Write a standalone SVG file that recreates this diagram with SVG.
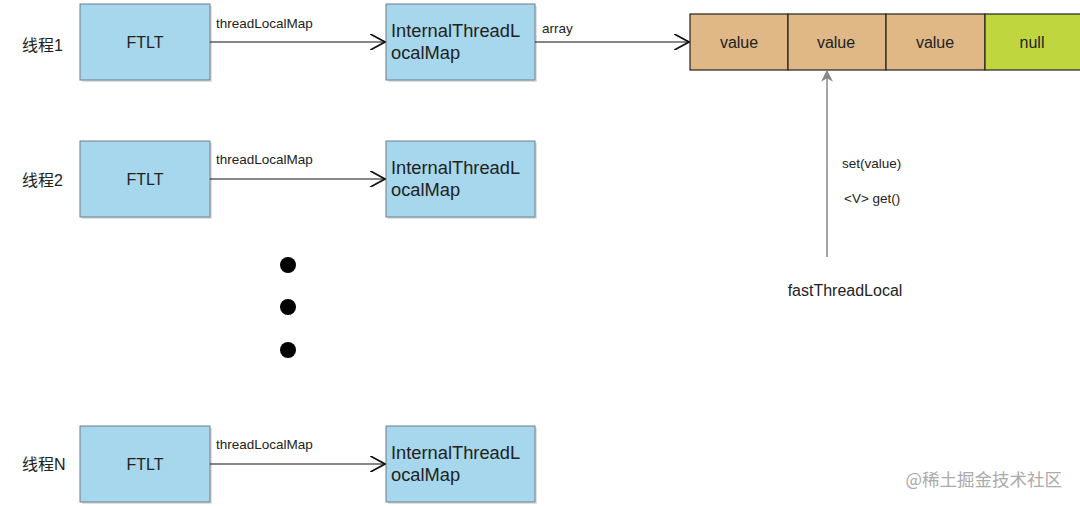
<svg xmlns="http://www.w3.org/2000/svg" width="1080" height="506" viewBox="0 0 1080 506">
<defs>
<style>
.box{fill:#a6d7ed;stroke:#6f7f8c;stroke-width:1}
.sh{fill:#000;opacity:0.12}
.t{font-family:"Liberation Sans",Arial,sans-serif;fill:#222}
.lbl{font-size:13.5px}
.big{font-size:16px}
.itl{font-size:18.3px}
.thr{font-family:"Liberation Sans","Noto Sans CJK SC",sans-serif;font-size:16px;fill:#222}
.cell{stroke:#222;stroke-width:1.2}
.con{stroke:#111;stroke-width:1.2;fill:none}
</style>
<marker id="open" viewBox="0 0 12 12" refX="11" refY="6" markerWidth="16" markerHeight="16" markerUnits="userSpaceOnUse" orient="auto">
<path d="M0,0 L11,6 L0,12" fill="none" stroke="#111" stroke-width="1.3"/>
</marker>
<marker id="fill" viewBox="0 0 10 10" refX="9" refY="5" markerWidth="12" markerHeight="12" markerUnits="userSpaceOnUse" orient="auto">
<path d="M0,0 L10,5 L0,10 L3,5 Z" fill="#888"/>
</marker>
</defs>
<rect width="1080" height="506" fill="#fff"/>

<g id="row1">
<text class="thr" x="22" y="51">线程1</text>
<g id="ftlt1"><rect class="sh" x="82" y="6" width="130" height="76"/><rect class="box" x="80" y="4" width="130" height="76"/><text class="t big" x="145" y="48" text-anchor="middle">FTLT</text></g>
<g id="itlm1"><rect class="sh" x="388" y="6" width="149" height="76"/><rect class="box" x="386" y="4" width="149" height="76"/><text class="t itl" x="391" y="37">InternalThreadL</text><text class="t itl" x="391" y="59">ocalMap</text></g>
</g>

<g id="row2">
<text class="thr" x="22" y="186">线程2</text>
<g id="ftlt2"><rect class="sh" x="82" y="143" width="130" height="76"/><rect class="box" x="80" y="141" width="130" height="76"/><text class="t big" x="145" y="185" text-anchor="middle">FTLT</text></g>
<g id="itlm2"><rect class="sh" x="388" y="143" width="149" height="76"/><rect class="box" x="386" y="141" width="149" height="76"/><text class="t itl" x="391" y="174">InternalThreadL</text><text class="t itl" x="391" y="196">ocalMap</text></g>
</g>

<g id="rowN">
<text class="thr" x="22" y="470">线程N</text>
<g id="ftltN"><rect class="sh" x="82" y="428" width="130" height="76"/><rect class="box" x="80" y="426" width="130" height="76"/><text class="t big" x="145" y="470" text-anchor="middle">FTLT</text></g>
<g id="itlmN"><rect class="sh" x="388" y="428" width="149" height="76"/><rect class="box" x="386" y="426" width="149" height="76"/><text class="t itl" x="391" y="459">InternalThreadL</text><text class="t itl" x="391" y="481">ocalMap</text></g>
</g>

<g id="dots" fill="#000">
<circle cx="288" cy="265" r="8"/>
<circle cx="288" cy="307" r="8"/>
<circle cx="288" cy="350" r="8"/>
</g>

<g id="array">
<rect class="cell" x="690" y="14" width="98" height="56" fill="#dfb886"/>
<rect class="cell" x="788" y="14" width="98" height="56" fill="#dfb886"/>
<rect class="cell" x="886" y="14" width="99" height="56" fill="#dfb886"/>
<rect class="cell" x="985" y="14" width="100" height="56" fill="#bfd63f"/>
<text class="t big" x="739" y="48" text-anchor="middle">value</text>
<text class="t big" x="836" y="48" text-anchor="middle">value</text>
<text class="t big" x="935" y="48" text-anchor="middle">value</text>
<text class="t big" x="1032" y="48" text-anchor="middle">null</text>
</g>

<g id="ftl">
<text class="t big" x="845" y="296" text-anchor="middle">fastThreadLocal</text>
</g>

<g id="connectors">
<line class="con" x1="210" y1="42" x2="385" y2="42" marker-end="url(#open)"/>
<text class="t lbl" x="216" y="28">threadLocalMap</text>
<line class="con" x1="210" y1="179" x2="385" y2="179" marker-end="url(#open)"/>
<text class="t lbl" x="216" y="164">threadLocalMap</text>
<line class="con" x1="210" y1="464" x2="385" y2="464" marker-end="url(#open)"/>
<text class="t lbl" x="216" y="449">threadLocalMap</text>
<line class="con" x1="535" y1="42" x2="689" y2="42" marker-end="url(#open)"/>
<text class="t lbl" x="542" y="33">array</text>
<line x1="827" y1="257" x2="827" y2="71" stroke="#888" stroke-width="1.5" marker-end="url(#fill)"/>
<text class="t lbl" x="842" y="168">set(value)</text>
<text class="t lbl" x="844" y="203">&lt;V&gt; get()</text>
</g>

<text x="1062" y="486" text-anchor="end" font-family="'Noto Sans CJK SC',sans-serif" font-size="17.5" fill="#aaa">@稀土掘金技术社区</text>
</svg>
